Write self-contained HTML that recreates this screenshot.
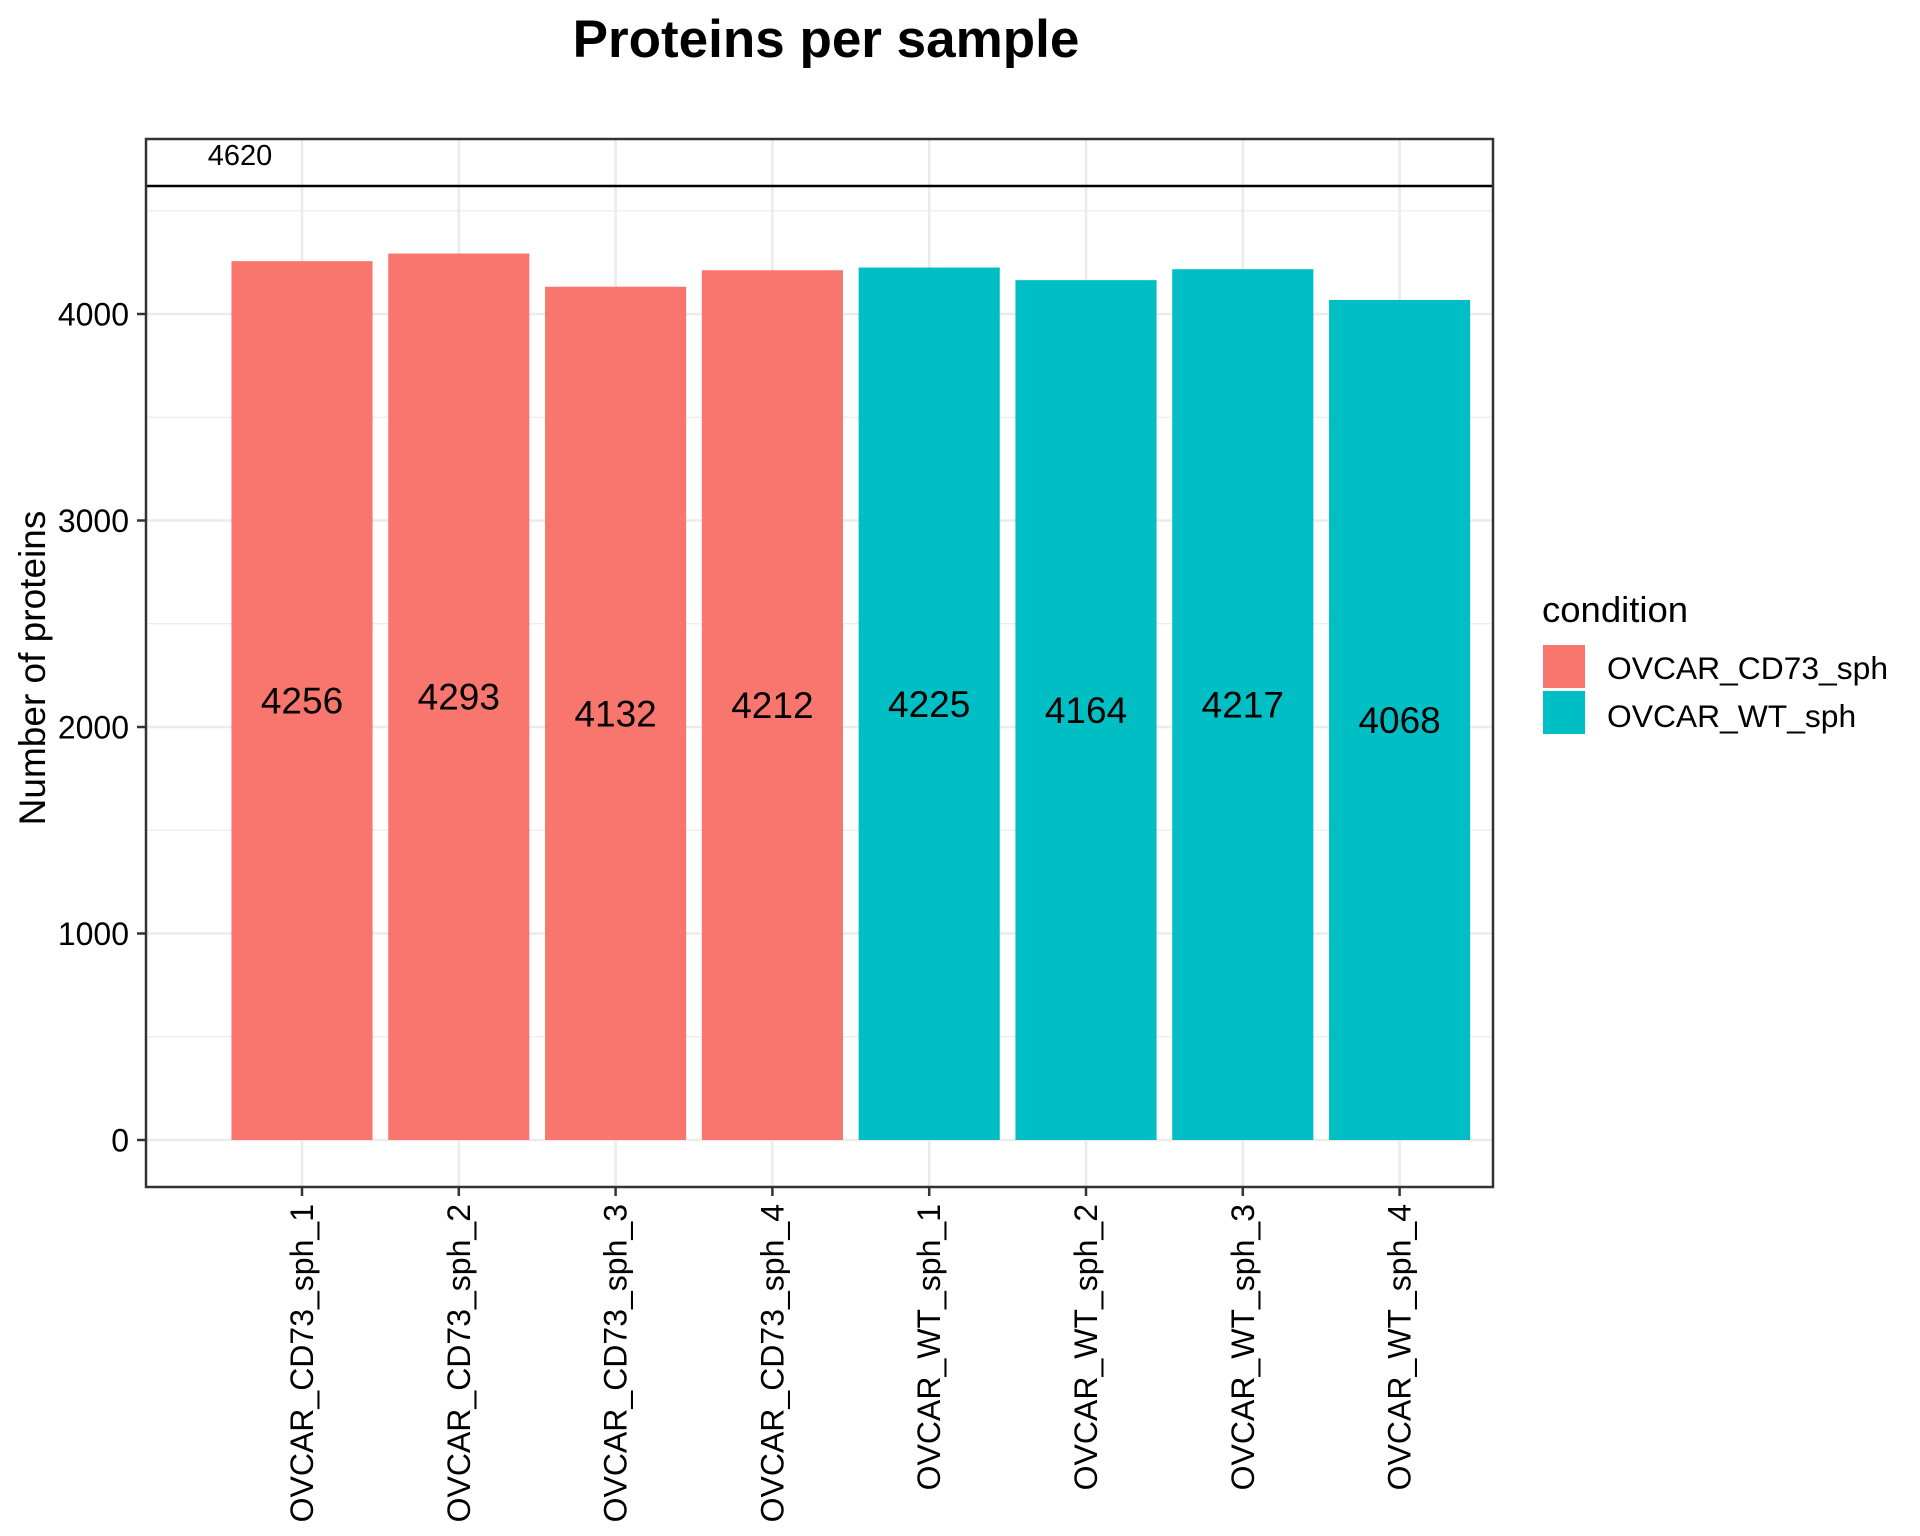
<!DOCTYPE html>
<html><head><meta charset="utf-8"><style>
html,body{margin:0;padding:0;background:#fff;}
svg{display:block;font-family:"Liberation Sans",Arial,sans-serif;}
</style></head><body>
<svg id="chart" width="1920" height="1536" viewBox="0 0 1920 1536">
<text x="826" y="57" font-size="53" font-weight="bold" text-anchor="middle">Proteins per sample</text>
<g id="grid"></g>
<g id="bars"></g>
<g id="labels"></g>
<g id="axes"></g>
<text transform="translate(45,668) rotate(-90)" font-size="37" text-anchor="middle">Number of proteins</text>
<g>
<text x="1542" y="622" font-size="36.5">condition</text>
<rect x="1543" y="645" width="42" height="43" fill="#F8766D"/>
<rect x="1543" y="691" width="42" height="43" fill="#00BFC4"/>
<text x="1607" y="679" font-size="31.8">OVCAR_CD73_sph</text>
<text x="1607" y="727" font-size="31.8">OVCAR_WT_sph</text>
</g>
</svg>
<script>
const categories = ["OVCAR_CD73_sph_1","OVCAR_CD73_sph_2","OVCAR_CD73_sph_3","OVCAR_CD73_sph_4","OVCAR_WT_sph_1","OVCAR_WT_sph_2","OVCAR_WT_sph_3","OVCAR_WT_sph_4"];
const values = [4256,4293,4132,4212,4225,4164,4217,4068];
const groups = ["CD73","CD73","CD73","CD73","WT","WT","WT","WT"];
const yTicks = [0,1000,2000,3000,4000];
const yMinor = [500,1500,2500,3500,4500];
const refLine = 4620;

const NS="http://www.w3.org/2000/svg";
const L=146,R=1493,T=139,B=1187;
const y0=1140, ppu=0.2065;
const y = v => y0 - v*ppu;
const step=156.8, x0=302;
const x = i => x0 + i*step;
const bw = step*0.9;
const colors={CD73:"#F8766D",WT:"#00BFC4"};
function mk(tag,attrs,parent){const e=document.createElementNS(NS,tag);for(const k in attrs)e.setAttribute(k,attrs[k]);parent.appendChild(e);return e;}
const grid=document.getElementById('grid'),bars=document.getElementById('bars'),labels=document.getElementById('labels'),axes=document.getElementById('axes');

yMinor.forEach(v=>{const l=mk('line',{x1:L,x2:R,y1:y(v),y2:y(v),stroke:'#EBEBEB','stroke-width':1.3},grid);

});
yTicks.forEach(v=>{const l=mk('line',{x1:L,x2:R,y1:y(v),y2:y(v),stroke:'#EBEBEB','stroke-width':2.6},grid);

});
categories.forEach((c,i)=>{const l=mk('line',{x1:x(i),x2:x(i),y1:T,y2:B,stroke:'#EBEBEB','stroke-width':2.6},grid);

});

values.forEach((v,i)=>{
const r=mk('rect',{x:x(i)-bw/2,y:y(v),width:bw,height:y(0)-y(v),fill:colors[groups[i]]},bars);


const t=mk('text',{x:x(i),y:y(v/2)+13,'font-size':37,'text-anchor':'middle'},labels);
t.textContent=v;


});

const hl=mk('line',{x1:L,x2:R,y1:y(refLine),y2:y(refLine),stroke:'#000','stroke-width':2.5},axes);


const ht=mk('text',{x:240,y:y(refLine)-21,'font-size':29,'text-anchor':'middle'},axes);
ht.textContent=refLine;



const frame=mk('rect',{x:L,y:T,width:R-L,height:B-T,fill:'none',stroke:'#333','stroke-width':2.5},axes);



yTicks.forEach(v=>{
const tk=mk('line',{x1:L-9,x2:L,y1:y(v),y2:y(v),stroke:'#333','stroke-width':2.5},axes);


const t=mk('text',{x:129,y:y(v)+11.5,'font-size':32,'text-anchor':'end',fill:'#000'},axes);
t.textContent=v;


});
categories.forEach((c,i)=>{
const tk=mk('line',{x1:x(i),x2:x(i),y1:B,y2:B+9,stroke:'#333','stroke-width':2.5},axes);


const t=mk('text',{'font-size':32,'text-anchor':'end',transform:`translate(${x(i)+11},1204) rotate(-90)`},axes);
t.textContent=c;


});
</script>
</body></html>
